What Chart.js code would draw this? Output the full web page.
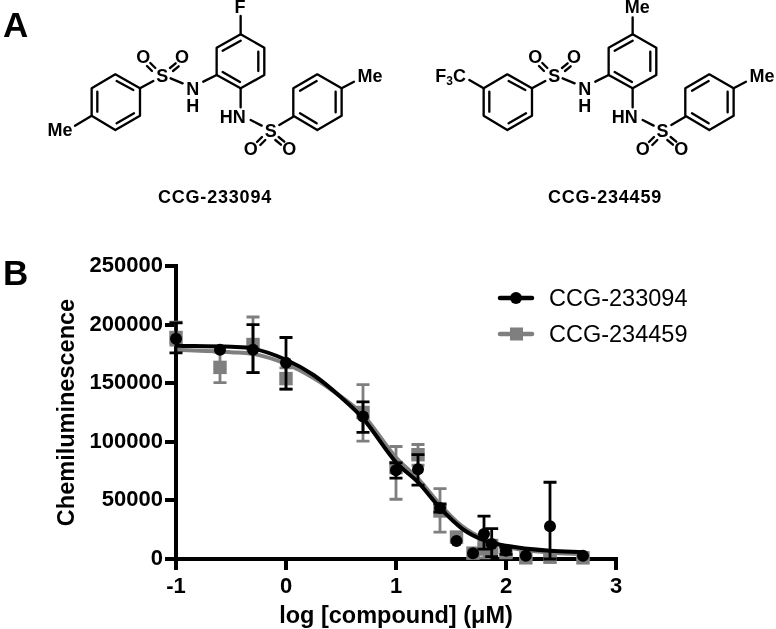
<!DOCTYPE html>
<html>
<head>
<meta charset="utf-8">
<title>CCG-233094 and CCG-234459</title>
<script src="https://cdn.jsdelivr.net/npm/chart.js@4/dist/chart.umd.min.js"></script>
<style>
  html, body { margin: 0; padding: 0; background: #fff; }
  #wrap { position: relative; width: 776px; height: 629px; overflow: hidden; }
  #doseChart { position: absolute; left: 0; top: 0; }
  #art { position: absolute; left: 0; top: 0; pointer-events: none; }
  #art text { font-family: "Liberation Sans", Arial, sans-serif; fill: #000; }
  .bond { fill: none; stroke: #000; stroke-width: 7; stroke-linecap: round; stroke-linejoin: round; }
  .atom { font-weight: 700; font-size: 54px; text-anchor: middle; dominant-baseline: central; }
</style>
</head>
<body>
<div id="wrap">
  <canvas id="doseChart" width="776" height="629"></canvas>
  <svg id="art" width="776" height="629" xmlns="http://www.w3.org/2000/svg">
    <defs>
      <!-- shared part of both molecules, drawn at 3x like the zoomed crops -->
      <g id="core">
        <path class="bond" d="M722 103 L793 143 L793 225 L722 265 L650 225 L650 143 Z"/>
        <path class="bond" d="M668 152 L722 122 M775 155 L775 213 M668 216 L720 246"/>
        <path class="bond" d="M650 225 L610 245 M512 235 L548 250 M722 265 L722 322 M752 360 L785 377 M838 375 L880 350"/>
        <path class="bond" d="M466 204 L451 189 M456 213 L441 198 M510 204 L527 190 M519 213 L536 199"/>
        <path class="bond" d="M786 411 L771 426 M796 420 L781 435 M836 411 L853 425 M826 420 L843 434"/>
        <path class="bond" d="M460 243 L420 265"/>
        <path class="bond" d="M880 265 L952 223 L1025 265 L1025 347 L952 390 L880 347 Z"/>
        <path class="bond" d="M900 272 L950 243 M1007 275 L1007 337 M900 340 L950 370"/>
        <path class="bond" d="M1025 265 L1062 245"/>
        <text class="atom" x="578" y="266">N</text>
        <text class="atom" x="578" y="318">H</text>
        <text class="atom" x="487" y="228">S</text>
        <text class="atom" x="430" y="170">O</text>
        <text class="atom" x="546" y="170">O</text>
        <text class="atom" x="698" y="350">HN</text>
        <text class="atom" x="812" y="392">S</text>
        <text class="atom" x="752" y="448">O</text>
        <text class="atom" x="868" y="448">O</text>
        <text class="atom" x="1110" y="228">Me</text>
      </g>
      <g id="leftRing">
        <path class="bond" d="M420 265 L346 223 L275 265 L275 347 L346 390 L420 347 Z"/>
        <path class="bond" d="M350 243 L400 270 M292 275 L292 335 M350 370 L402 340"/>
      </g>
    </defs>

    <text x="3" y="37" style="font-weight:700;font-size:35px">A</text>
    <text x="3" y="285" style="font-weight:700;font-size:35px">B</text>

    <g transform="scale(0.3333)">
      <use href="#core"/>
      <use href="#leftRing"/>
      <path class="bond" d="M722 103 L722 48 M275 347 L225 377"/>
      <text class="atom" x="720" y="22">F</text>
      <text class="atom" x="180" y="390">Me</text>
    </g>
    <g transform="translate(390 0) scale(0.3333)">
      <use href="#core" x="6"/>
      <use href="#leftRing" x="6"/>
      <path class="bond" d="M728 103 L728 52 M281 265 L238 240"/>
      <text class="atom" x="742" y="22">Me</text>
      <text x="228" y="245" style="font-weight:700;font-size:54px;text-anchor:end">F<tspan dy="10" style="font-size:36px">3</tspan><tspan dy="-10">C</tspan></text>
    </g>

    <text x="215" y="203" style="font-weight:700;font-size:18px;letter-spacing:.8px;text-anchor:middle">CCG-233094</text>
    <text x="605" y="203" style="font-weight:700;font-size:18px;letter-spacing:.8px;text-anchor:middle">CCG-234459</text>

    <g id="legend"></g>
  </svg>
</div>

<script>
const seriesNames = ["CCG-233094", "CCG-234459"];
const xTicks = [-1, 0, 1, 2, 3];
const yTicks = [0, 50000, 100000, 150000, 200000, 250000];

// measured points, log concentration
const logDose = [-1, -0.6, -0.3, 0, 0.7, 1, 1.2, 1.4, 1.55, 1.7, 1.8, 1.87, 2, 2.18, 2.4, 2.7];

const values233094 = [187900, 178500, 178500, 167500, 121600, 75700, 76500, 43600, 15300, 5000, 21300, 12700, 7000, 2800, 28000, 2800];
const upper233094 = [201500, null, 200000, 189000, 134000, 82000, 89000, 47000, null, null, 36500, 26000, 10000, null, 65500, null];
const lower233094 = [175800, null, 159000, 145000, 108000, 69000, 63000, 40000, null, null, 8500, 2000, 4000, null, 0, null];

const values234459 = [189000, 163500, 183000, 153900, 125000, 78000, 89000, 41000, 18700, 5000, 8500, 10000, 6000, 1000, 1500, 1000];
const upper234459 = [202000, 176500, 206500, 163000, 148800, 96000, 97700, 60000, null, null, 15000, 16000, 11000, 2000, 3000, 2000];
const lower234459 = [182600, 150500, 159000, 145000, 100600, 51000, 80000, 23000, null, null, 1000, 4000, 1000, 0, 0, 0];

// fitted curves
const curveDose = [-1, -0.5, -0.3, 0, 0.25, 0.5, 0.7, 1, 1.2, 1.4, 1.6, 1.8, 2, 2.4, 2.7];
const curve233094 = [182000, 181000, 179500, 170000, 157000, 138000, 120000, 82500, 65500, 43600, 26000, 16000, 11300, 7000, 5800];
const curve234459 = [178500, 176500, 175000, 166500, 154500, 138500, 123000, 86500, 68500, 46500, 28000, 17000, 10500, 5500, 4000];

const black = "#000000";
const grey = "#7f7f7f";

function pairs(xs, ys) {
  return xs.map((x, i) => ({ x: x, y: ys[i] }));
}

// error bars for a points dataset, drawn just before its markers
const errorBars = {
  id: "errorBars",
  beforeDatasetDraw(chart, args) {
    const ds = chart.data.datasets[args.index];
    if (!ds.errUpper) return;
    const { x, y } = chart.scales;
    const c = chart.ctx;
    c.save();
    c.strokeStyle = ds.borderColor;
    c.lineWidth = 2.8;
    logDose.forEach((d, i) => {
      const px = x.getPixelForValue(d);
      [ds.errUpper[i], ds.errLower[i]].forEach((v) => {
        if (v === null) return;
        const py = y.getPixelForValue(v);
        c.beginPath();
        c.moveTo(px, y.getPixelForValue(ds.data[i].y));
        c.lineTo(px, py);
        c.moveTo(px - 6.5, py);
        c.lineTo(px + 6.5, py);
        c.stroke();
      });
    });
    c.restore();
  },
};

// chart.js paints the first dataset last, so black comes first to stay on top
const ctx = document.getElementById("doseChart").getContext("2d");
const doseChart = new Chart(ctx, {
  type: "line",
  plugins: [errorBars],
  data: {
    datasets: [
      {
        label: seriesNames[0] + " fit",
        data: pairs(curveDose, curve233094),
        borderColor: black,
        borderWidth: 4,
        pointRadius: 0,
        cubicInterpolationMode: "monotone",
        clip: false,
      },
      {
        label: seriesNames[0],
        data: pairs(logDose, values233094),
        errUpper: upper233094,
        errLower: lower233094,
        showLine: false,
        borderColor: black,
        backgroundColor: black,
        pointStyle: "circle",
        pointRadius: 6,
        pointBorderWidth: 0,
        clip: false,
      },
      {
        label: seriesNames[1] + " fit",
        data: pairs(curveDose, curve234459),
        borderColor: grey,
        borderWidth: 4,
        pointRadius: 0,
        cubicInterpolationMode: "monotone",
        clip: false,
      },
      {
        label: seriesNames[1],
        data: pairs(logDose, values234459),
        errUpper: upper234459,
        errLower: lower234459,
        showLine: false,
        borderColor: grey,
        backgroundColor: grey,
        pointStyle: "rect",
        pointRadius: 9.5,
        pointBorderWidth: 0,
        clip: false,
      },
    ],
  },
  options: {
    responsive: false,
    animation: false,
    layout: { padding: { top: 266, right: 160, left: 0, bottom: 0 } },
    plugins: { legend: { display: false }, tooltip: { enabled: false } },
    scales: {
      x: {
        type: "linear",
        min: -1,
        max: 3,
        afterBuildTicks: (s) => { s.ticks = xTicks.map((v) => ({ value: v })); },
        afterFit: (s) => { s.height = 70; },
        grid: { drawOnChartArea: false, color: black, lineWidth: 4, tickLength: 11, tickWidth: 4 },
        border: { color: black, width: 4 },
        ticks: {
          color: black,
          padding: 4,
          maxRotation: 0,
          font: { family: "Liberation Sans", weight: "bold", size: 22 },
          callback: (v) => String(v),
        },
        title: {
          display: true,
          text: "log [compound] (μM)",
          color: black,
          font: { family: "Liberation Sans", weight: "bold", size: 23.5, lineHeight: 1.05 },
          padding: { top: 0, bottom: 0 },
        },
      },
      y: {
        min: 0,
        max: 250000,
        afterBuildTicks: (s) => { s.ticks = yTicks.map((v) => ({ value: v })); },
        afterFit: (s) => { s.width = 176; },
        grid: { drawOnChartArea: false, color: black, lineWidth: 4, tickLength: 11, tickWidth: 4 },
        border: { color: black, width: 4 },
        ticks: {
          color: black,
          padding: 2,
          font: { family: "Liberation Sans", weight: "bold", size: 22 },
          callback: (v) => String(v),
        },
        title: {
          display: true,
          text: "Chemiluminescence",
          color: black,
          font: { family: "Liberation Sans", weight: "bold", size: 23.5 },
          padding: { top: 53, bottom: 0 },
        },
      },
    },
  },
});

// legend with a line and marker key, placed inside the plot like the original
const svgNS = "http://www.w3.org/2000/svg";
const legendBox = document.getElementById("legend");
function el(name, attrs, text) {
  const n = document.createElementNS(svgNS, name);
  Object.keys(attrs).forEach((k) => n.setAttribute(k, attrs[k]));
  if (text) n.textContent = text;
  legendBox.appendChild(n);
}
seriesNames.forEach((name, i) => {
  const cy = 298 + i * 36;
  const col = i === 0 ? black : grey;
  el("line", { x1: 500, x2: 532, y1: cy, y2: cy, stroke: col, "stroke-width": 4.5, "stroke-linecap": "round" });
  if (i === 0) el("circle", { cx: 516, cy: cy, r: 6, fill: col });
  else el("rect", { x: 510, y: cy - 6.5, width: 13, height: 13, fill: col });
  el("text", { x: 549, y: cy + 8, style: "font-size:23.5px" }, name);
});
</script>
</body>
</html>
